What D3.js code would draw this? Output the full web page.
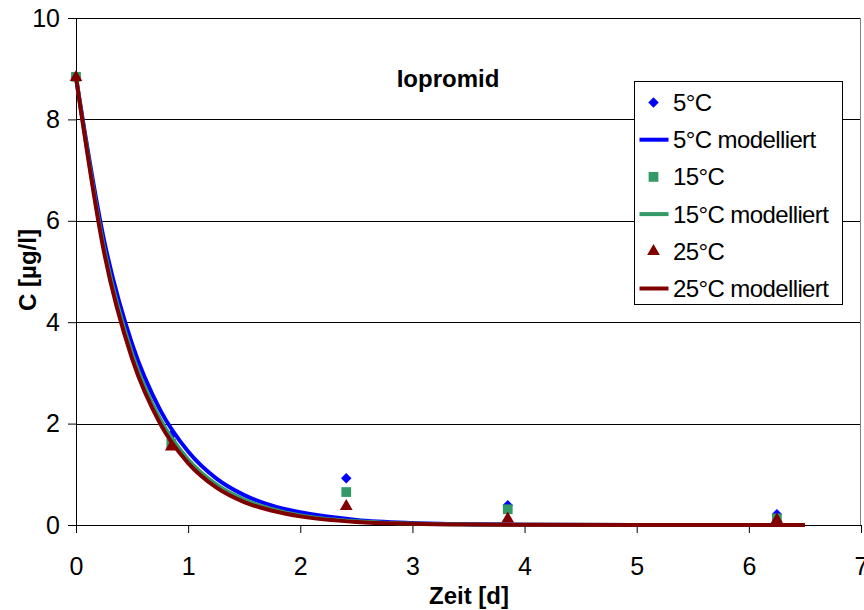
<!DOCTYPE html>
<html>
<head>
<meta charset="utf-8">
<script src="https://cdn.jsdelivr.net/npm/d3@7"></script>
<style>
  html, body { margin: 0; padding: 0; background: #fff; }
  svg { display: block; font-family: Arial, "Liberation Sans", sans-serif; }
</style>
</head>
<body>
<svg id="chart" width="864" height="610"></svg>
<script>
// Measured concentrations of Iopromid over time at three temperatures
const sampleDays = [0, 0.85, 2.41, 3.85, 6.25];
const measured5  = [8.83, 1.77, 0.92, 0.39, 0.21];
const measured15 = [8.84, 1.61, 0.65, 0.31, 0.13];
const measured25 = [8.83, 1.54, 0.37, 0.12, 0.10];

// Modelled decay curves, sampled along the time axis
const modelDays = [0, 0.25, 0.5, 0.75, 1.0, 1.25, 1.5, 1.75, 2.0, 2.5, 3.0, 3.5, 4.0, 5.0, 6.5];
const model5  = [8.83, 5.62, 3.57, 2.27, 1.45, 0.92, 0.59, 0.38, 0.25, 0.10, 0.04, 0.016, 0.007, 0.001, 0];
const model15 = [8.83, 5.46, 3.38, 2.09, 1.29, 0.80, 0.50, 0.31, 0.19, 0.073, 0.028, 0.011, 0.004, 0.0006, 0];
const model25 = [8.83, 5.38, 3.28, 2.00, 1.22, 0.74, 0.45, 0.28, 0.17, 0.06, 0.023, 0.008, 0.003, 0.0004, 0];

const xTicks = [0, 1, 2, 3, 4, 5, 6, 7];
const yTicks = [0, 2, 4, 6, 8, 10];

const legendLabels = ["5°C", "5°C modelliert", "15°C", "15°C modelliert", "25°C", "25°C modelliert"];

const colBlue = "#0000ff", colGreen = "#339966", colRed = "#800000";

const svg = d3.select("#chart");
const plot = { left: 76, right: 861, top: 18, bottom: 525 };

const x = d3.scaleLinear().domain([0, 7]).range([plot.left, plot.right]);
const y = d3.scaleLinear().domain([0, 10]).range([plot.bottom, plot.top]);

// horizontal gridlines
svg.append("g")
  .selectAll("line")
  .data(yTicks.filter(d => d > 0))
  .join("line")
  .attr("x1", plot.left).attr("x2", plot.right)
  .attr("y1", d => Math.round(y(d)) + 0.5).attr("y2", d => Math.round(y(d)) + 0.5)
  .attr("stroke", "#000").attr("stroke-width", 1);

// right border of the plot area
svg.append("line")
  .attr("x1", plot.right - 0.5).attr("x2", plot.right - 0.5)
  .attr("y1", plot.top).attr("y2", plot.bottom)
  .attr("stroke", "#808080").attr("stroke-width", 1);

// axes
const xAxis = d3.axisBottom(x).tickValues(xTicks).tickSize(8).tickPadding(42).tickFormat(d3.format("d"));
const yAxis = d3.axisLeft(y).tickValues(yTicks).tickSize(8).tickPadding(8).tickFormat(d3.format("d"));

const gx = svg.append("g").attr("transform", `translate(0,${plot.bottom})`).call(xAxis);
const gy = svg.append("g").attr("transform", `translate(${plot.left},0)`).call(yAxis);
[gx, gy].forEach(g => {
  g.selectAll(".domain").attr("stroke", "#000").attr("stroke-width", 1);
  g.selectAll(".tick line").attr("stroke", "#000");
  g.selectAll("text").attr("font-size", 25).attr("fill", "#000")
    .attr("font-family", "Arial, 'Liberation Sans', sans-serif");
});
gx.selectAll("text").attr("dy", "0");

// axis titles
svg.append("text")
  .attr("x", 469).attr("y", 604)
  .attr("text-anchor", "middle").attr("font-size", 24).attr("font-weight", "bold")
  .text("Zeit [d]");
svg.append("text")
  .attr("transform", "translate(36,270) rotate(-90)")
  .attr("text-anchor", "middle").attr("font-size", 24).attr("font-weight", "bold")
  .text("C [µg/l]");

// chart title
svg.append("text")
  .attr("x", 448).attr("y", 87)
  .attr("text-anchor", "middle").attr("font-size", 24).attr("font-weight", "bold")
  .text("Iopromid");

const line = d3.line().x(d => x(d[0])).y(d => y(d[1])).curve(d3.curveMonotoneX);

const diamond = d3.symbol().type(d3.symbolDiamond2).size(70);
const square = d3.symbol().type(d3.symbolSquare).size(95);
const triangle = d3.symbol().type(d3.symbolTriangle).size(70);

function drawPoints(values, sym, color) {
  svg.append("g").selectAll("path")
    .data(sampleDays.map((t, i) => [t, values[i]]))
    .join("path")
    .attr("transform", d => `translate(${x(d[0])},${y(d[1])})`)
    .attr("d", sym)
    .attr("fill", color);
}
function drawCurve(values, color) {
  svg.append("path")
    .datum(modelDays.map((t, i) => [t, values[i]]))
    .attr("d", line)
    .attr("fill", "none")
    .attr("stroke", color)
    .attr("stroke-width", 4);
}

drawPoints(measured5, diamond, colBlue);
drawCurve(model5, colBlue);
drawPoints(measured15, square, colGreen);
drawCurve(model15, colGreen);
drawPoints(measured25, triangle, colRed);
drawCurve(model25, colRed);

// legend
const lg = svg.append("g");
lg.append("rect")
  .attr("x", 634.5).attr("y", 81.5).attr("width", 208).attr("height", 223)
  .attr("fill", "#fff").attr("stroke", "#000").attr("stroke-width", 1);

const legendItems = [
  { kind: "point", sym: diamond, color: colBlue },
  { kind: "line", color: colBlue },
  { kind: "point", sym: square, color: colGreen },
  { kind: "line", color: colGreen },
  { kind: "point", sym: triangle, color: colRed },
  { kind: "line", color: colRed }
];
legendItems.forEach((it, i) => {
  const cy = 102.5 + i * 37.2;
  if (it.kind === "point") {
    lg.append("path")
      .attr("transform", `translate(653.5,${cy})`)
      .attr("d", it.sym)
      .attr("fill", it.color);
  } else {
    lg.append("line")
      .attr("x1", 639.5).attr("x2", 668.5)
      .attr("y1", cy).attr("y2", cy)
      .attr("stroke", it.color).attr("stroke-width", 4);
  }
  lg.append("text")
    .attr("x", 673).attr("y", cy + 8.5)
    .attr("font-size", 24)
    .attr("letter-spacing", -0.6)
    .text(legendLabels[i]);
});
</script>
</body>
</html>
